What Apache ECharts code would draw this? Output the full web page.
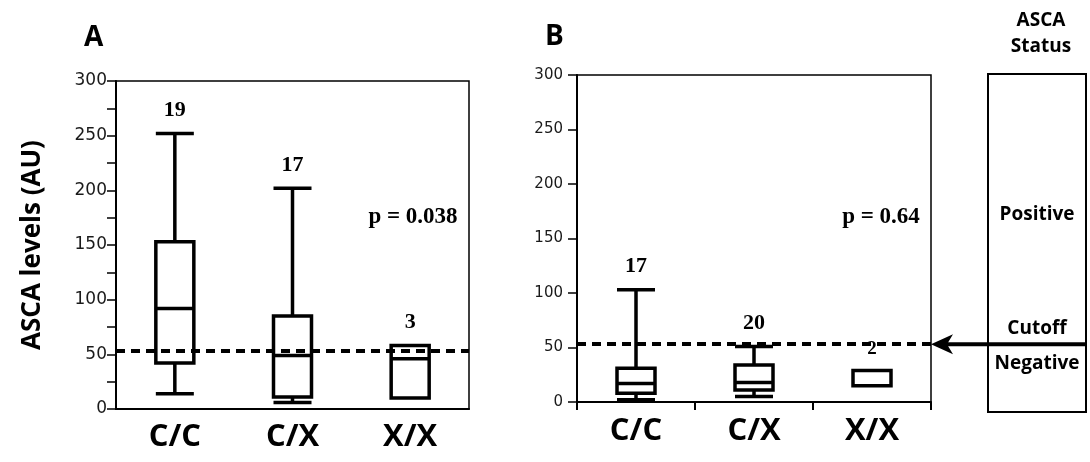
<!DOCTYPE html>
<html>
<head>
<meta charset="utf-8">
<script src="https://cdn.jsdelivr.net/npm/echarts@6/dist/echarts.min.js"></script>
<style>
html,body{margin:0;padding:0;background:#fff;}
#c{width:1090px;height:462px;}
</style>
</head>
<body>
<div id="c"></div>
<script>
// ---- data ----
const categories = ['C/C', 'C/X', 'X/X'];
// [min, Q1, median, Q3, max]
const boxA = [[14, 42, 92, 153, 252], [6, 11, 49, 85, 202], [10, 10, 46, 58, 58]];
const boxB = [[2, 8, 17, 31, 103], [5, 11, 18, 34, 51], [15, 15, 15, 29, 29]];
const countsA = [19, 17, 3];
const countsB = [17, 20, 2];
const cutoff = 53;
const pValueA = 'p = 0.038';
const pValueB = 'p = 0.64';
const yMin = 0, yMax = 300, yStep = 50;
const statusLabels = ['Positive', 'Cutoff', 'Negative'];
const statusTitle = 'ASCA\nStatus';
const yTitle = 'ASCA levels (AU)';
const panelLetters = ['A', 'B'];

const chart = echarts.init(document.getElementById('c'), null, {renderer: 'canvas'});

function yAxisCfg(idx, opts) {
  return Object.assign({
    type: 'value', gridIndex: idx, min: yMin, max: yMax, interval: yStep,
    axisLine: {show: true, lineStyle: {color: '#000', width: 2}},
    axisTick: {show: true, length: 9, lineStyle: {color: '#000', width: 1.5}},
    splitLine: {show: false},
    axisLabel: {color: '#222', fontFamily: 'DejaVu Sans', fontSize: 14, margin: 12}
  }, opts || {});
}

function boxSeries(idx, data) {
  return {
    type: 'boxplot', xAxisIndex: idx, yAxisIndex: idx,
    data: data, boxWidth: [38, 38],
    itemStyle: {color: 'rgba(255,255,255,0)', borderColor: '#000', borderWidth: 3.5},
    emphasis: {disabled: true},
    markLine: {
      silent: true, symbol: 'none', label: {show: false},
      lineStyle: {color: '#000', width: 4, type: [9, 6]},
      data: [{yAxis: cutoff}]
    },
    z: 3
  };
}

function countSeries(idx, boxes, counts, sizes) {
  return {
    type: 'scatter', xAxisIndex: idx, yAxisIndex: idx,
    symbolSize: 0, silent: true,
    itemStyle: {opacity: 1},
    data: boxes.map((b, i) => ({value: [i, b[4]], label: {fontSize: sizes[i]}})),
    label: {
      show: true, position: 'top', distance: 12,
      formatter: p => String(counts[p.dataIndex]),
      fontFamily: 'Liberation Serif', fontWeight: 'bold', fontSize: 22, color: '#000', opacity: 1
    },
    z: 4
  };
}

const option = {
  animation: false,
  backgroundColor: '#fff',
  grid: [
    {left: 116, top: 81, width: 353, height: 328, show: true, borderColor: '#000', borderWidth: 1.5, backgroundColor: 'transparent'},
    {left: 577, top: 75, width: 354, height: 327, show: true, borderColor: '#000', borderWidth: 1.5, backgroundColor: 'transparent'}
  ],
  xAxis: [
    {type: 'category', gridIndex: 0, data: categories, boundaryGap: true,
     axisLine: {lineStyle: {color: '#000', width: 2}}, axisTick: {show: false},
     axisLabel: {color: '#000', fontFamily: 'Open Sans', fontWeight: 'bold', fontSize: 31, margin: 13}},
    {type: 'category', gridIndex: 1, data: categories, boundaryGap: true,
     axisLine: {lineStyle: {color: '#000', width: 2}},
     axisTick: {show: true, length: 8, lineStyle: {color: '#000', width: 2}},
     axisLabel: {color: '#000', fontFamily: 'Open Sans', fontWeight: 'bold', fontSize: 31, margin: 14}}
  ],
  yAxis: [
    yAxisCfg(0, {
      minorTick: {show: true, splitNumber: 2, length: 9, lineStyle: {color: '#000', width: 1.5}},
      axisLabel: {color: '#1a1a1a', fontFamily: 'DejaVu Sans', fontSize: 17, margin: 9},
      name: yTitle, nameLocation: 'middle', nameGap: 70, nameRotate: 90,
      nameTextStyle: {fontFamily: 'Open Sans', fontWeight: 'bold', fontSize: 26, color: '#000'}
    }),
    yAxisCfg(1, {axisLabel: {color: '#1a1a1a', fontFamily: 'DejaVu Sans', fontSize: 15, margin: 14}})
  ],
  title: [
    {text: panelLetters[0], left: 79, top: 19, textStyle: {fontFamily: 'Open Sans', fontWeight: 'bold', fontSize: 28, color: '#000'}},
    {text: panelLetters[1], left: 540, top: 18, textStyle: {fontFamily: 'Open Sans', fontWeight: 'bold', fontSize: 28, color: '#000'}}
  ],
  series: [
    boxSeries(0, boxA),
    boxSeries(1, boxB),
    countSeries(0, boxA, countsA, [22, 22, 22]),
    countSeries(1, boxB, countsB, [22, 22, 19])
  ]
};
chart.setOption(option);

// annotation graphics (positions derived from the axes where they relate to data)
const yCut = chart.convertToPixel({yAxisIndex: 1}, cutoff);
const boxLeft = 988, boxRight = 1086;
chart.setOption({
  graphic: [
    {type: 'text', x: 413, y: 217, style: {text: pValueA, font: 'bold 23px "Liberation Serif"', fill: '#000', align: 'center', verticalAlign: 'middle'}},
    {type: 'text', x: 881, y: 217, style: {text: pValueB, font: 'bold 23px "Liberation Serif"', fill: '#000', align: 'center', verticalAlign: 'middle'}},
    {type: 'rect', shape: {x: boxLeft, y: 74, width: boxRight - boxLeft, height: 338}, style: {fill: 'none', stroke: '#000', lineWidth: 2}},
    {type: 'line', shape: {x1: 945, y1: yCut, x2: 1085, y2: yCut}, style: {stroke: '#000', lineWidth: 4}},
    {type: 'polygon', shape: {points: [[931, yCut], [953, yCut - 10], [947, yCut], [953, yCut + 10]]}, style: {fill: '#000'}},
    {type: 'text', x: 1041, y: 8, style: {text: statusTitle, font: 'bold 19px "Open Sans"', fill: '#000', align: 'center', lineHeight: 26}},
    {type: 'text', x: 1037, y: 215, style: {text: statusLabels[0], font: 'bold 19px "Open Sans"', fill: '#000', align: 'center', verticalAlign: 'middle'}},
    {type: 'text', x: 1037, y: 329, style: {text: statusLabels[1], font: 'bold 19px "Open Sans"', fill: '#000', align: 'center', verticalAlign: 'middle'}},
    {type: 'text', x: 1037, y: 364, style: {text: statusLabels[2], font: 'bold 19px "Open Sans"', fill: '#000', align: 'center', verticalAlign: 'middle'}}
  ]
});
</script>
</body>
</html>
